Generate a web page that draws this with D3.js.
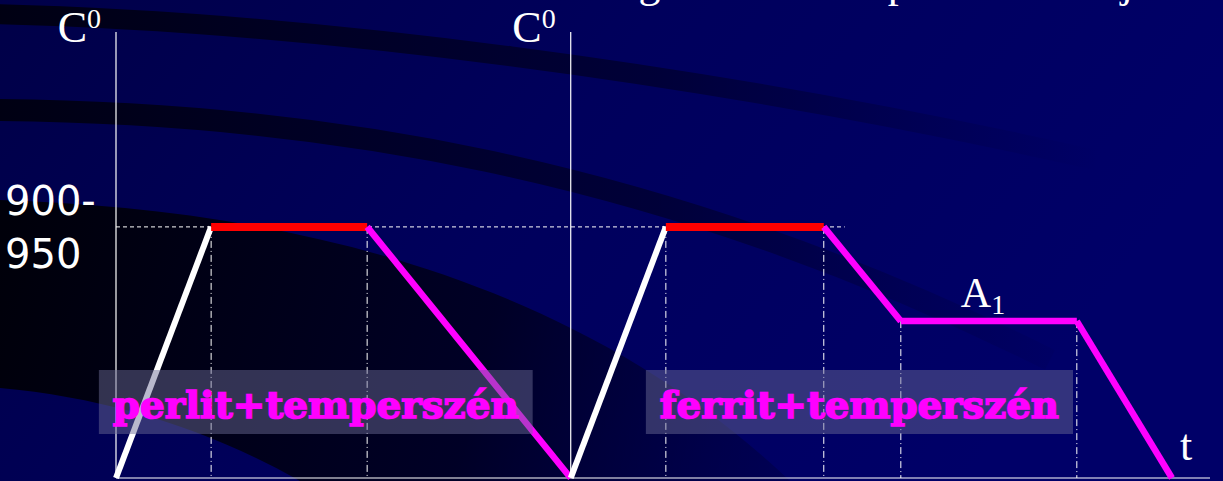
<!DOCTYPE html>
<html>
<head>
<meta charset="utf-8">
<script src="https://cdn.jsdelivr.net/npm/d3@7"></script>
<style>
  body { margin: 0; background: #000060; overflow: hidden; }
  svg { display: block; }
</style>
</head>
<body>
<div id="chart"></div>
<script>
// time in arbitrary units along the t axis, temperature in °C (schematic)
const cycleA_time = [0, 1.0, 2.64, 4.78];
const cycleA_temp = [0, 925, 925, 0];
const cycleA_stage = ['heating', 'soak', 'cooling'];

const cycleB_time = [4.78, 5.78, 7.44, 8.25, 10.1, 11.1];
const cycleB_temp = [0, 925, 925, 578, 578, 0];
const cycleB_stage = ['heating', 'soak', 'cooling', 'cooling', 'cooling'];

const axisStarts = [0, 4.78];      // the two temperature axes
const tempAxisTop = 1643;
const timeAxisEnd = 11.5;
const soakRefEnd = 7.66;          // end of the dashed 900-950 line
const boxLabels = ['perlit+temperszén', 'ferrit+temperszén'];
const boxTime = [[-0.18, 4.38], [5.57, 10.06]];

const width = 1223, height = 481;

const x = d3.scaleLinear().domain([0, timeAxisEnd]).range([116, 1210]);
const y = d3.scaleLinear().domain([0, tempAxisTop]).range([478, 32]);

const stageColor = { heating: '#ffffff', soak: '#ff0000', cooling: '#ff00ff' };
const stageWidth = { heating: 6, soak: 8, cooling: 6.5 };

const svg = d3.select('#chart').append('svg')
    .attr('width', width)
    .attr('height', height);

// ---- background ----
const defs = svg.append('defs');
const bg = defs.append('linearGradient').attr('id', 'bg')
    .attr('x1', 0).attr('y1', 0).attr('x2', 1).attr('y2', 0.3);
bg.append('stop').attr('offset', 0).attr('stop-color', '#000048');
bg.append('stop').attr('offset', 0.5).attr('stop-color', '#00005c');
bg.append('stop').attr('offset', 1).attr('stop-color', '#000068');

const arcFade = defs.append('linearGradient').attr('id', 'arcFade')
    .attr('gradientUnits', 'userSpaceOnUse')
    .attr('x1', 0).attr('y1', 0).attr('x2', 1100).attr('y2', 0);
arcFade.append('stop').attr('offset', 0).attr('stop-color', '#000010').attr('stop-opacity', 0.95);
arcFade.append('stop').attr('offset', 0.6).attr('stop-color', '#000020').attr('stop-opacity', 0.6);
arcFade.append('stop').attr('offset', 1).attr('stop-color', '#000030').attr('stop-opacity', 0);

const darkFade = defs.append('linearGradient').attr('id', 'darkFade')
    .attr('gradientUnits', 'userSpaceOnUse')
    .attr('x1', 0).attr('y1', 250).attr('x2', 800).attr('y2', 450);
darkFade.append('stop').attr('offset', 0).attr('stop-color', '#000008').attr('stop-opacity', 0.97);
darkFade.append('stop').attr('offset', 0.6).attr('stop-color', '#000018').attr('stop-opacity', 0.8);
darkFade.append('stop').attr('offset', 1).attr('stop-color', '#000030').attr('stop-opacity', 0.3);

svg.append('rect').attr('width', width).attr('height', height).attr('fill', 'url(#bg)');

svg.append('path')
    .attr('d', 'M0,200 C250,208 560,262 790,481 L300,481 C210,430 110,398 0,388 Z')
    .attr('fill', 'url(#darkFade)');

svg.append('path')
    .attr('d', 'M-10,14 C300,21 700,71 1100,161')
    .attr('fill', 'none').attr('stroke', 'url(#arcFade)').attr('stroke-width', 20);
svg.append('path')
    .attr('d', 'M-10,110 C300,112 650,160 1050,360')
    .attr('fill', 'none').attr('stroke', 'url(#arcFade)').attr('stroke-width', 22);

// title, cut off by the top edge: only descenders show
svg.append('text')
    .attr('x', 292).attr('y', -3)
    .attr('font-family', 'Liberation Serif, Times New Roman, serif')
    .attr('font-size', 44)
    .attr('fill', 'white')
    .attr('textLength', 862)
    .attr('lengthAdjust', 'spacing')
    .text('A hőkezelés két legfontosabb típusa és módja');

// ---- axes ----
const axes = svg.append('g').attr('stroke', 'white').attr('stroke-width', 1.2);
axisStarts.forEach(t0 => {
    axes.append('line')
        .attr('x1', x(t0)).attr('x2', x(t0))
        .attr('y1', y(0)).attr('y2', y(tempAxisTop));
});
axes.append('line')
    .attr('x1', x(0)).attr('x2', x(timeAxisEnd))
    .attr('y1', y(0)).attr('y2', y(0));

// dashed soak temperature reference
svg.append('line')
    .attr('x1', x(0)).attr('x2', x(soakRefEnd))
    .attr('y1', y(925)).attr('y2', y(925))
    .attr('stroke', 'white').attr('stroke-width', 1)
    .attr('stroke-dasharray', '4,3');

// dash-dot verticals under the inner break points
function guides(times, temps) {
    for (let i = 1; i < times.length - 1; i++) {
        svg.append('line')
            .attr('x1', x(times[i])).attr('x2', x(times[i]))
            .attr('y1', y(temps[i])).attr('y2', y(0))
            .attr('stroke', 'white').attr('stroke-width', 1)
            .attr('stroke-dasharray', '7,3,1,3');
    }
}
guides(cycleA_time, cycleA_temp);
guides(cycleB_time, cycleB_temp);

// ---- heat treatment curves ----
function drawCycle(times, temps, stages) {
    const g = svg.append('g');
    stages.forEach((s, i) => {
        g.append('line')
            .attr('x1', x(times[i])).attr('y1', y(temps[i]))
            .attr('x2', x(times[i + 1])).attr('y2', y(temps[i + 1]))
            .attr('stroke', stageColor[s])
            .attr('stroke-width', stageWidth[s])
            .attr('stroke-linecap', 'butt');
    });
}
drawCycle(cycleA_time, cycleA_temp, cycleA_stage);
drawCycle(cycleB_time, cycleB_temp, cycleB_stage);

// ---- axis labels ----
const serif = 'Liberation Serif, Times New Roman, serif';
axisStarts.forEach(t0 => {
    const lbl = svg.append('text')
        .attr('x', x(t0) - 15).attr('y', 42)
        .attr('text-anchor', 'end')
        .attr('font-family', serif)
        .attr('fill', 'white');
    lbl.append('tspan').attr('font-size', 44).text('C');
    lbl.append('tspan').attr('font-size', 28).attr('dy', -14).text('0');
});

const tick = svg.append('g')
    .attr('font-family', 'DejaVu Sans, Verdana, sans-serif')
    .attr('font-size', 40)
    .attr('fill', 'white');
tick.append('text').attr('x', 5).attr('y', 215).text('900-');
tick.append('text').attr('x', 5).attr('y', 268).text('950');

const a1 = svg.append('text')
    .attr('x', (x(cycleB_time[3]) + x(cycleB_time[4])) / 2 - 28)
    .attr('y', y(578) - 14)
    .attr('font-family', serif)
    .attr('fill', 'white');
a1.append('tspan').attr('font-size', 42).text('A');
a1.append('tspan').attr('font-size', 28).attr('dy', 7).text('1');

svg.append('text')
    .attr('x', x(timeAxisEnd) - 30).attr('y', 460)
    .attr('font-family', serif)
    .attr('font-size', 44)
    .attr('fill', 'white')
    .text('t');

// ---- structure boxes ----
boxLabels.forEach((label, i) => {
    const x0 = x(boxTime[i][0]), x1 = x(boxTime[i][1]);
    svg.append('rect')
        .attr('x', x0).attr('y', 370)
        .attr('width', x1 - x0).attr('height', 64)
        .attr('fill', 'rgb(107,107,150)')
        .attr('fill-opacity', 0.475);
    svg.append('text')
        .attr('x', x0 + 14).attr('y', 418)
        .attr('font-family', 'DejaVu Serif, serif')
        .attr('font-weight', 'bold')
        .attr('font-size', 37)
        .attr('fill', '#ff00ff')
        .attr('stroke', '#ff00ff')
        .attr('stroke-width', 1.6)
        .attr('textLength', x1 - x0 - 28)
        .attr('lengthAdjust', 'spacingAndGlyphs')
        .text(label);
});
</script>
</body>
</html>
